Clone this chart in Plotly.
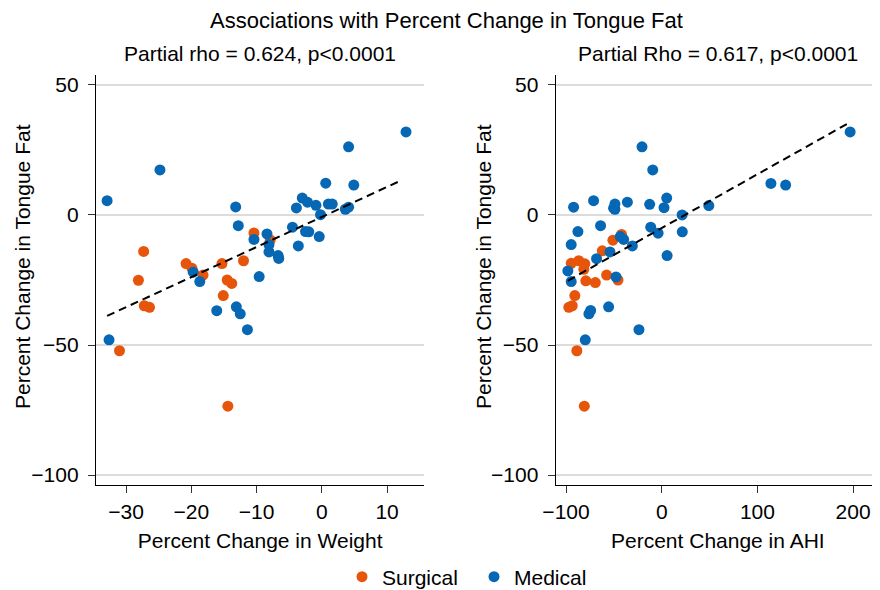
import plotly.graph_objects as go

# ---- data ----
surg_wt_x = [-27.3, -10.4, -7.9, -20.8, -19.9, -15.3, -12.0, -18.2, -28.1, -14.5, -13.8, -15.1, -27.2, -26.4, -31.0, -14.4]
surg_wt_y = [-14.0, -6.9, -9.6, -18.7, -20.5, -18.7, -17.6, -23.1, -25.1, -25.0, -26.3, -31.0, -34.9, -35.5, -52.2, -73.5]

med_wt_x = [-32.9, -24.8, 12.9, 4.1, 0.6, 4.9, -3.0, -2.2, -0.9, 1.0, 1.6, -3.9, 3.6, 4.1, -0.2, -13.2, -12.8, -4.5,
            -2.5, -2.0, -0.4, -8.4, -10.4, -8.1, -3.6, -8.1, -6.7, -6.6, -19.7, -18.7, -9.6, -16.1, -13.1, -12.5, -11.4, -32.6]
med_wt_y = [5.5, 17.3, 31.9, 26.2, 12.2, 11.5, 6.5, 4.9, 3.7, 4.2, 4.2, 2.7, 2.2, 3.0, 0.1, 3.1, -4.1, -4.7,
            -6.4, -6.5, -8.3, -7.3, -9.4, -11.4, -11.9, -14.2, -15.6, -16.7, -22.0, -25.6, -23.7, -36.8, -35.3, -38.0, -44.1, -48.0]

surg_ahi_x = [-42.0, -51.0, -62.1, -94.6, -86.7, -80.4, -81.4, -79.3, -69.4, -57.6, -45.7, -90.8, -97.1, -93.5, -88.7, -80.9]
surg_ahi_y = [-7.5, -9.7, -13.8, -18.6, -17.6, -18.8, -20.9, -25.3, -26.0, -23.1, -25.0, -31.0, -35.5, -34.9, -52.2, -73.5]

med_ahi_x = [196.9, 114.1, 129.5, -20.6, -9.4, 49.2, 5.2, 2.4, 21.3, -12.6, -35.9, -48.9, -50.3, -48.9, -71.2, -92.1, -63.9, -87.6,
             -11.5, -3.8, 21.5, -43.3, -39.8, -30.7, -94.6, -54.1, -68.1, 5.6, -98.1, -94.6, -47.8, -55.5, -74.3, -76.1, -23.8, -79.9]
med_ahi_y = [31.9, 12.1, 11.5, 26.2, 17.3, 3.6, 6.5, 2.8, 0.0, 4.1, 4.9, 4.2, 2.6, 2.2, 5.5, 3.0, -4.1, -6.4,
             -4.7, -7.0, -6.5, -8.3, -9.4, -11.9, -11.4, -14.2, -16.8, -15.6, -21.5, -25.6, -23.8, -35.3, -36.7, -38.0, -44.1, -48.0]

fit_wt_x = [-32.9, 12.0]
fit_wt_y = [-38.8, 13.1]
fit_ahi_x = [-98.1, 196.1]
fit_ahi_y = [-25.3, 35.5]

y_ticks = [50, 0, -50, -100]
x1_ticks = [-30, -20, -10, 0, 10]
x2_ticks = [-100, 0, 100, 200]

ORANGE = "#E6550A"
BLUE = "#0668B4"
FONT = "Liberation Sans, Arial, sans-serif"
FS = 21

# page body has an 8px margin; work in screen pixels and shift
OFF = 8
W, H = 880 - OFF, 590 - OFF
L, R, T, B = 96 - OFF, 880 - OFF, 75 - OFF, 485 - OFF


def px_x(p):
    return (p - OFF - L) / (R - L)


def px_y(p):
    return (B - (p - OFF)) / (B - T)


fig = go.Figure()

mk = dict(size=11, line=dict(width=0))
fig.add_trace(go.Scatter(x=surg_wt_x, y=surg_wt_y, mode="markers", name="Surgical",
                         marker=dict(color=ORANGE, **mk), xaxis="x", yaxis="y", legendgroup="s"))
fig.add_trace(go.Scatter(x=med_wt_x, y=med_wt_y, mode="markers", name="Medical",
                         marker=dict(color=BLUE, **mk), xaxis="x", yaxis="y", legendgroup="m"))
fig.add_trace(go.Scatter(x=fit_wt_x, y=fit_wt_y, mode="lines", showlegend=False,
                         line=dict(color="black", width=2, dash="8px,5px"), xaxis="x", yaxis="y"))
fig.add_trace(go.Scatter(x=surg_ahi_x, y=surg_ahi_y, mode="markers", name="Surgical", showlegend=False,
                         marker=dict(color=ORANGE, **mk), xaxis="x2", yaxis="y2", legendgroup="s"))
fig.add_trace(go.Scatter(x=med_ahi_x, y=med_ahi_y, mode="markers", name="Medical", showlegend=False,
                         marker=dict(color=BLUE, **mk), xaxis="x2", yaxis="y2", legendgroup="m"))
fig.add_trace(go.Scatter(x=fit_ahi_x, y=fit_ahi_y, mode="lines", showlegend=False,
                         line=dict(color="black", width=2, dash="8px,5px"), xaxis="x2", yaxis="y2"))

axis_common = dict(showline=True, linecolor="black", linewidth=1.3, ticks="outside", ticklen=7,
                   tickcolor="#333333", tickwidth=1.3, tickfont=dict(size=FS, color="black"),
                   zeroline=False, mirror=False, automargin=False)
xax = dict(axis_common, showgrid=False, ticklabelstandoff=1)
yax = dict(axis_common, range=[-103.8, 53.8], tickvals=y_ticks, showgrid=True, gridcolor="#dcdcdc",
           gridwidth=1.5, domain=[0, 1], ticklabelstandoff=5)


def text_ann(text, sx, sy, size=FS, angle=0):
    return dict(text=text, x=px_x(sx), y=px_y(sy), xref="paper", yref="paper", showarrow=False,
                font=dict(size=size), xanchor="center", yanchor="middle", textangle=angle)


fig.update_layout(
    width=W, height=H,
    margin=dict(l=L, r=W - R, t=T, b=H - B, autoexpand=False),
    paper_bgcolor="white", plot_bgcolor="white",
    font=dict(family=FONT, color="black", size=FS),
    xaxis=dict(xax, domain=[0, px_x(424.3)], range=[-34.6, 15.7], tickvals=x1_ticks, anchor="y",
               title=dict(text="Percent Change in Weight", font=dict(size=FS), standoff=10)),
    yaxis=dict(yax, anchor="x"),
    xaxis2=dict(xax, domain=[px_x(555.7), 1], range=[-110.8, 228.1], tickvals=x2_ticks, anchor="y2",
                title=dict(text="Percent Change in AHI", font=dict(size=FS), standoff=10)),
    yaxis2=dict(yax, anchor="x2"),
    legend=dict(orientation="h", xref="container", yref="container", x=(352 - OFF - 10) / W, xanchor="left",
                y=1 - (577 - OFF) / H, yanchor="middle", font=dict(size=FS), itemwidth=30,
                entrywidth=87, bgcolor="rgba(0,0,0,0)"),
    annotations=[
        text_ann("Associations with Percent Change in Tongue Fat", 446, 20, size=22),
        text_ann("Partial rho = 0.624, p<0.0001", 260, 54),
        text_ann("Partial Rho = 0.617, p<0.0001", 718, 54),
        text_ann("Percent Change in Tongue Fat", 22, 267, angle=-90),
        text_ann("Percent Change in Tongue Fat", 483, 267, angle=-90),
    ],
)

fig.write_html("out.html")
